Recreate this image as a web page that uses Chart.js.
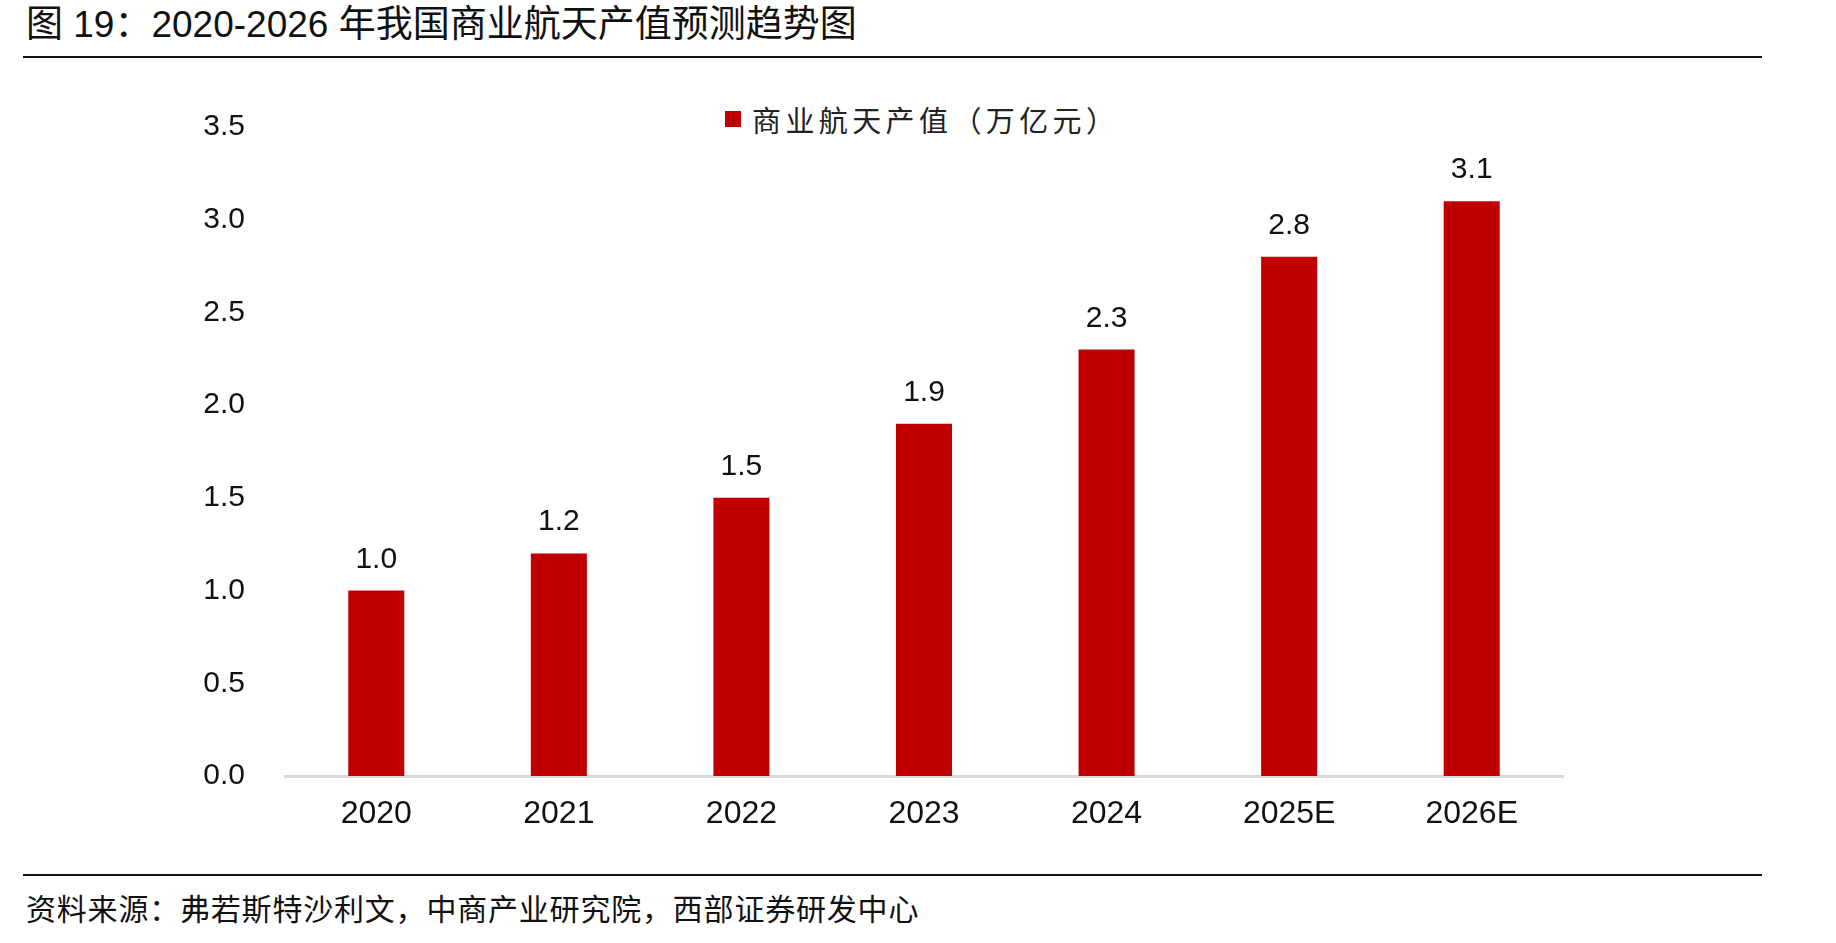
<!DOCTYPE html>
<html>
<head>
<meta charset="utf-8">
<script src="https://cdn.jsdelivr.net/npm/chart.js@4.4.1/dist/chart.umd.min.js"></script>
<style>
    body { margin: 0; width: 1836px; height: 943px; background: #fff; position: relative; overflow: hidden;
           font-family: "Liberation Sans", "Noto Sans CJK SC", sans-serif; color: #111; }
    .title { position: absolute; left: 26px; top: 3px; font-size: 37px; line-height: 44px; white-space: nowrap; }
    .rule { position: absolute; left: 23px; width: 1739px; height: 2px; background: #111; }
    .source { position: absolute; left: 26px; top: 890px; font-size: 30px; line-height: 40px; letter-spacing: 0.8px; white-space: nowrap; }
    .legend { position: absolute; left: 725px; top: 100px; height: 38px; display: flex; align-items: center; white-space: nowrap; }
    .legend .box { width: 16px; height: 16px; background: #c00000; margin-right: 11px; }
    .legend .txt { font-size: 29px; letter-spacing: 4.4px; color: #222; }
    .wrap { position: absolute; left: 0; top: 60px; width: 1836px; height: 810px; }
</style>
</head>
<body>
<div class="title">图 19：2020-2026 年我国商业航天产值预测趋势图</div>
<div class="rule" style="top:56px"></div>
<div class="legend"><div class="box"></div><div class="txt">商业航天产值（万亿元）</div></div>
<div class="wrap"><canvas id="chart"></canvas></div>
<div class="rule" style="top:874px"></div>
<div class="source">资料来源：弗若斯特沙利文，中商产业研究院，西部证券研发中心</div>

<script>
document.addEventListener("DOMContentLoaded", function () {
    // --- Data ---
    const years = ["2020", "2021", "2022", "2023", "2024", "2025E", "2026E"];
    const outputValues = [1.0, 1.2, 1.5, 1.9, 2.3, 2.8, 3.1];
    const yTicks = [0, 0.5, 1.0, 1.5, 2.0, 2.5, 3.0, 3.5];

    const barColor = "#c00000";

    // value labels above the bars
    const barLabels = {
        id: "barLabels",
        afterDatasetsDraw(chart) {
            const ctx = chart.ctx;
            const meta = chart.getDatasetMeta(0);
            ctx.save();
            ctx.font = "30px 'Liberation Sans', sans-serif";
            ctx.fillStyle = "#111";
            ctx.textAlign = "center";
            ctx.textBaseline = "alphabetic";
            meta.data.forEach((bar, i) => {
                ctx.fillText(outputValues[i].toFixed(1), bar.x, bar.y - 23);
            });
            ctx.restore();
        }
    };

    const ctx = document.getElementById("chart").getContext("2d");
    new Chart(ctx, {
        type: "bar",
        data: {
            labels: years,
            datasets: [{
                label: "商业航天产值（万亿元）",
                data: outputValues,
                backgroundColor: barColor,
                borderWidth: 0,
                categoryPercentage: 1,
                barPercentage: 0.307
            }]
        },
        options: {
            responsive: true,
            maintainAspectRatio: false,
            animation: false,
            layout: { padding: { left: 0, right: 273, top: 67, bottom: 0 } },
            scales: {
                x: {
                    grid: { display: false, drawTicks: false },
                    border: { display: true, color: "#d9d9d9", width: 3 },
                    ticks: {
                        color: "#111",
                        padding: 19,
                        font: { family: "'Liberation Sans', sans-serif", size: 32 }
                    },
                    afterFit(scale) { scale.height = 94; }
                },
                y: {
                    min: 0,
                    max: 3.5,
                    afterBuildTicks(scale) { scale.ticks = yTicks.map(v => ({ value: v })); },
                    grid: { display: false, drawTicks: false },
                    border: { display: false },
                    ticks: {
                        color: "#111",
                        padding: 40,
                        font: { family: "'Liberation Sans', sans-serif", size: 30 },
                        callback: value => Number(value).toFixed(1)
                    },
                    afterFit(scale) { scale.width = 285; }
                }
            },
            plugins: {
                legend: { display: false },
                tooltip: { enabled: false }
            }
        },
        plugins: [barLabels]
    });
});
</script>
</body>
</html>
